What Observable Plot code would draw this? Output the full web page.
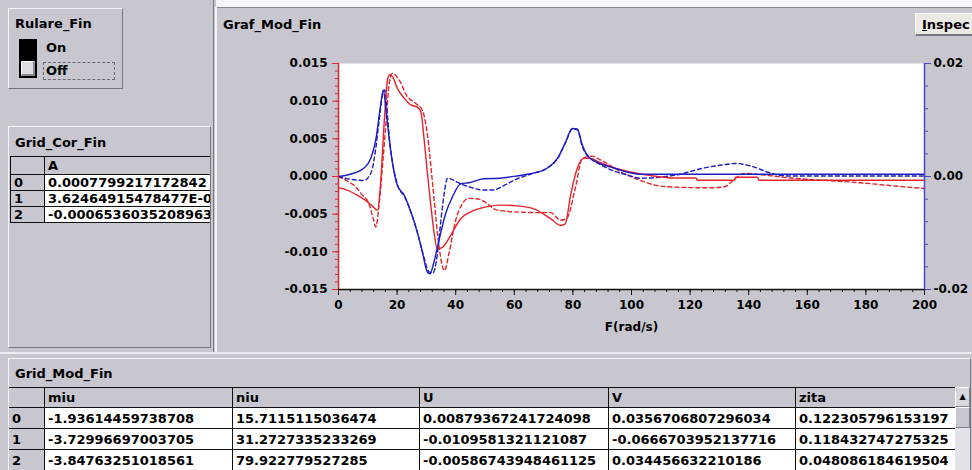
<!DOCTYPE html>
<html><head><meta charset="utf-8">
<script src="https://cdn.jsdelivr.net/npm/d3@7"></script>
<script src="https://cdn.jsdelivr.net/npm/@observablehq/plot@0.6"></script>
<style>
html,body{margin:0;padding:0;}
body{width:972px;height:470px;overflow:hidden;position:relative;background:#c8c7cf;
  font-family:"DejaVu Sans",sans-serif;font-weight:bold;font-size:13px;color:#000;}
.abs{position:absolute;}
.panel{position:absolute;box-sizing:border-box;border-top:1px solid #f4f4f8;border-left:1px solid #f4f4f8;
  border-right:1px solid #77767e;border-bottom:1px solid #77767e;overflow:hidden;}
.title{position:absolute;line-height:16px;white-space:nowrap;}
table.grid{position:absolute;border-collapse:collapse;table-layout:fixed;font-size:13px;font-weight:bold;}
table.grid td{border:1px solid #101010;padding:0 0 0 3px;white-space:nowrap;overflow:hidden;box-sizing:border-box;}
table.grid td.v{background:#fff;}
table.grid td.h{background:#c8c7cf;}
#chart svg{display:block;}
</style>
</head>
<body>
<div class="abs" style="left:216px;top:0;width:760px;height:7px;background:#f6f6f8"></div>
<div class="abs" style="left:0;top:352px;width:972px;height:2px;background:#ececf0"></div>
<div class="abs" style="left:213px;top:0;width:1px;height:352px;background:#7a7982"></div>
<div class="abs" style="left:215px;top:7px;width:2px;height:345px;background:#f2f2f6"></div>
<div class="abs" style="left:217px;top:7px;width:760px;height:1px;background:#8a8990"></div>

<!-- Rulare_Fin -->
<div class="panel" style="left:8px;top:8px;width:115px;height:81px;">
  <div class="title" style="left:6px;top:7px;">Rulare_Fin</div>
  <div class="abs" style="left:10px;top:30px;width:18px;height:39px;background:#000;"></div>
  <div class="abs" style="left:12px;top:52px;width:14px;height:15px;background:#dcdce0;border-top:1px solid #fff;border-left:1px solid #fff;box-sizing:border-box;border-right:2px solid #8a8a90;border-bottom:2px solid #8a8a90;"></div>
  <div class="title" style="left:37px;top:31px;">On</div>
  <div class="abs" style="left:34px;top:53px;width:72px;height:18px;border:1px dashed #6a6a70;box-sizing:border-box;"></div>
  <div class="title" style="left:37px;top:54px;">Off</div>
</div>

<!-- Grid_Cor_Fin -->
<div class="panel" id="gcf" style="left:8px;top:126px;width:203px;height:222px;">
  <div class="title" style="left:6px;top:8px;">Grid_Cor_Fin</div>
</div>

<!-- Chart panel -->
<div class="title" style="left:223px;top:17px;">Graf_Mod_Fin</div>
<div class="abs" style="left:915px;top:13px;width:70px;height:23px;background:#ebe9e3;border-top:1px solid #fff;border-left:1px solid #fff;border-bottom:2px solid #77767e;box-sizing:border-box;">
  <span style="position:absolute;left:6px;top:3px;"><u>I</u>nspec</span>
</div>
<div id="chart" class="abs" style="left:218px;top:40px;"></div>

<!-- Grid_Mod_Fin -->
<div class="panel" id="gmf" style="left:8px;top:358px;width:963px;height:120px;">
  <div class="title" style="left:6px;top:7px;">Grid_Mod_Fin</div>
</div>

<script>
// ---------------- data ----------------
// x axis: F (rad/s)
const xDomain = [0, 200];
const xMajorTicks = [0, 20, 40, 60, 80, 100, 120, 140, 160, 180, 200];
// left (red) axis
const leftDomain = [-0.015, 0.015];
const leftMajorTicks = [-0.015, -0.010, -0.005, 0, 0.005, 0.010, 0.015];
// right (blue) axis
const rightDomain = [-0.02, 0.02];
const rightMajorTicks = [-0.02, 0, 0.02];
const xLabel = "F(rad/s)";

// red solid curve (left axis)
const redSolidF = [0,3,6,9,11.5,13.3,14.4,15.6,16.8,17.6,18.5,20.1,22.4,24.7,26.9,28.1,29.2,30.3,31.5,32.6,33.7,35.5,38.3,41.7,45.1,50.8,55,61,66.7,72.4,75.8,77.4,79.2,81.5,83.7,86,89,92.8,99.7,108.8,115,122,122.5,135,135.5,143,143.5,200];
const redSolidV = [-0.0015,-0.0018,-0.0024,-0.0031,-0.0039,-0.0045,-0.0007,0.0072,0.0130,0.0135,0.0132,0.0117,0.0104,0.0095,0.0092,0.0086,0.0050,0.0006,-0.0038,-0.0074,-0.0096,-0.0094,-0.0078,-0.0056,-0.0047,-0.0040,-0.0038,-0.0039,-0.0043,-0.0056,-0.0065,-0.0063,-0.0025,0.0011,0.0024,0.0024,0.0019,0.0013,0.0006,0.0000,-0.0002,-0.0002,-0.0005,-0.0005,-0.0001,-0.0001,-0.0005,-0.0005];

// red dashed curve (left axis)
const redDashF = [0,3,5.9,8,10.4,12,12.7,13.8,15,16.1,17.3,18.4,20.7,23.5,26.4,28.6,30.3,32.1,33.8,35.5,36.2,37.7,40,42.3,44.5,47.9,50.8,53.6,60.4,69.5,72.4,75.8,78,80.9,83.2,86.6,89.4,97.4,103,108.8,114.4,125.8,131.5,134.8,138.3,145.1,154.2,165.6,177,188.3,200];
const redDashV = [0,-0.0006,-0.0014,-0.0024,-0.0036,-0.0058,-0.0067,-0.0040,0.0013,0.0066,0.0123,0.0137,0.0128,0.0106,0.0097,0.0088,0.0057,-0.0009,-0.0076,-0.0120,-0.0125,-0.0102,-0.0058,-0.0036,-0.0029,-0.0030,-0.0036,-0.0044,-0.0047,-0.0048,-0.0048,-0.0058,-0.0055,-0.0014,0.0024,0.0027,0.0022,0.0004,-0.0005,-0.0012,-0.0014,-0.0015,-0.0014,-0.0005,0.0004,0.0002,-0.0002,-0.0005,-0.0008,-0.0012,-0.0016];

// blue solid curve (right axis)
const blueSolidF = [0,4,8.7,11,12.7,14.4,15.3,16.3,17.3,18.4,20.1,22.4,24.7,26.9,28.6,30.3,31.2,32.6,34.3,36.6,38.9,41.7,44.5,49.6,55,61,65.5,71.3,74.7,77.5,79.8,81.5,83.2,84.9,88.3,92.8,98.5,103,120,140,160,180,200];
const blueSolidV = [0,0.0004,0.0015,0.0032,0.0064,0.0127,0.0153,0.0113,0.0067,0.0025,-0.0016,-0.0033,-0.0063,-0.0099,-0.0133,-0.0169,-0.0172,-0.0151,-0.0113,-0.0065,-0.0036,-0.0013,-0.0011,-0.0004,-0.0003,0.0001,0.0005,0.0015,0.0032,0.0061,0.0085,0.0084,0.0056,0.0037,0.0025,0.0017,0.0008,0.0004,0.0004,0.0004,0.0004,0.0004,0.0004];

// blue dashed curve (right axis)
const blueDashF = [0,4.2,8.7,10.4,11.6,12.7,13.8,15,15.8,16.7,17.5,18.6,20.3,22.6,25,27.2,29,30.8,32.2,33.7,34.9,36,37.2,41.7,45,49.6,53,55.3,61,65.5,71.3,74.7,77.5,79.8,81.5,83.2,86,89.4,92.8,98.5,103,110,115.6,124.7,130.3,135.5,141.7,146.3,153,200];
const blueDashV = [0,-0.0005,-0.0007,0,0.0015,0.0049,0.0096,0.0144,0.0153,0.0108,0.0060,0.0020,-0.0017,-0.0036,-0.0067,-0.0104,-0.0140,-0.0168,-0.0171,-0.0139,-0.0080,-0.0033,-0.0003,-0.0013,-0.0019,-0.0024,-0.0024,-0.0019,-0.0004,0.0004,0.0015,0.0031,0.0060,0.0084,0.0083,0.0053,0.0032,0.0021,0.0012,0.0003,-0.0003,-0.0001,0.0003,0.0015,0.0020,0.0023,0.0017,0.0008,0.0001,0.0001];

// tables
const gridCorHeader = ["A"];
const gridCorIndex = ["0", "1", "2"];
const gridCorA = ["0.0007799217172842", "3.62464915478477E-0", "-0.0006536035208963"];

const gridModHeader = ["miu", "niu", "U", "V", "zita"];
const gridModIndex = ["0", "1", "2"];
const miu = ["-1.93614459738708", "-3.72996697003705", "-3.84763251018561"];
const niu = ["15.7115115036474", "31.2727335233269", "79.922779527285"];
const colU = ["0.00879367241724098", "-0.0109581321121087", "-0.00586743948461125"];
const colV = ["0.0356706807296034", "-0.0666703952137716", "0.034456632210186"];
const zita = ["0.122305796153197", "0.118432747275325", "0.048086184619504"];

// ---------------- chart ----------------
const RED = "#e3242b";
const BLUE = "#1c1cc4";
const AXBLUE = "#4848c8";
const toLeft = d3.scaleLinear().domain(rightDomain).range(leftDomain);

const redSolid = d3.zip(redSolidF, redSolidV);
const redDash = d3.zip(redDashF, redDashV);
const blueSolid = d3.zip(blueSolidF, blueSolidV);
const blueDash = d3.zip(blueDashF, blueDashV);

const xMinor = d3.range(xDomain[0], xDomain[1] + 0.001, 4);
const leftMinor = d3.range(-15, 16, 1).map(k => k / 1000);
const rightMinor = d3.range(-5, 6, 1).map(k => toLeft(k * 0.004));

const chart = Plot.plot({
  width: 754,
  height: 310,
  marginLeft: 120,
  marginRight: 48,
  marginTop: 23,
  marginBottom: 61,
  x: {domain: xDomain},
  y: {domain: leftDomain},
  style: {background: "transparent", fontFamily: "DejaVu Sans", fontSize: "12px", fontWeight: "bold", color: "black", overflow: "visible"},
  marks: [
    Plot.frame({fill: "white", stroke: null}),
    Plot.line(redDash, {x: d => d[0], y: d => d[1], stroke: RED, strokeWidth: 1.4, strokeDasharray: "4,3", curve: "monotone-x"}),
    Plot.line(blueDash, {x: d => d[0], y: d => toLeft(d[1]), stroke: BLUE, strokeWidth: 1.4, strokeDasharray: "4,3", curve: "monotone-x"}),
    Plot.line(redSolid, {x: d => d[0], y: d => d[1], stroke: RED, strokeWidth: 1.4, curve: "monotone-x"}),
    Plot.line(blueSolid, {x: d => d[0], y: d => toLeft(d[1]), stroke: BLUE, strokeWidth: 1.4, curve: "monotone-x"}),
    // axis lines
    Plot.ruleY([leftDomain[0]], {stroke: "#111", strokeWidth: 1.5}),
    Plot.ruleX([xDomain[0]], {stroke: RED, strokeWidth: 1.5}),
    Plot.ruleX([xDomain[1]], {stroke: AXBLUE, strokeWidth: 1.5}),
    // x axis
    Plot.axisX({ticks: xMinor, tickSize: 3, tickFormat: () => "", label: null, stroke: "#111"}),
    Plot.axisX({ticks: xMajorTicks, tickSize: 6, tickPadding: 5, tickFormat: d => String(d), label: null, stroke: "#111", fill: "black"}),
    // left axis
    Plot.axisY({anchor: "left", ticks: leftMinor, tickSize: 3, tickFormat: () => "", label: null, stroke: RED}),
    Plot.axisY({anchor: "left", ticks: leftMajorTicks, tickSize: 6, tickPadding: 5, tickFormat: d => d.toFixed(3), label: null, stroke: RED, fill: "black"}),
    // right axis
    Plot.axisY({anchor: "right", ticks: rightMinor, tickSize: 3, tickFormat: () => "", label: null, stroke: AXBLUE}),
    Plot.axisY({anchor: "right", ticks: rightMajorTicks.map(toLeft), tickSize: 6, tickPadding: 3, tickFormat: d => toLeft.invert(d).toFixed(2), label: null, stroke: AXBLUE, fill: "black"}),
    Plot.text([xLabel], {frameAnchor: "bottom", dy: 41, text: d => d, fill: "black", fontWeight: "bold", fontSize: 12})
  ]
});
document.getElementById("chart").appendChild(chart);

// ---------------- tables ----------------
function buildTable(parent, left, top, colWidths, headers, index, columns, headH, rowH) {
  const t = document.createElement("table");
  t.className = "grid";
  t.style.left = left + "px";
  t.style.top = top + "px";
  t.style.width = d3.sum(colWidths) + "px";
  const cg = document.createElement("colgroup");
  colWidths.forEach(w => { const c = document.createElement("col"); c.style.width = w + "px"; cg.appendChild(c); });
  t.appendChild(cg);
  const hr = t.insertRow();
  hr.style.height = headH + "px";
  const c0 = hr.insertCell(); c0.className = "h";
  headers.forEach(h => { const c = hr.insertCell(); c.className = "h"; c.textContent = h; });
  index.forEach((ix, i) => {
    const r = t.insertRow();
    r.style.height = rowH + "px";
    const a = r.insertCell(); a.className = "h"; a.textContent = ix;
    columns.forEach(col => { const c = r.insertCell(); c.className = "v"; c.textContent = col[i]; });
  });
  parent.appendChild(t);
  return t;
}
buildTable(document.getElementById("gcf"), 1, 29, [34, 175], gridCorHeader, gridCorIndex, [gridCorA], 18, 15);
buildTable(document.getElementById("gmf"), -1, 28, [36, 188, 187, 189, 187, 160], gridModHeader, gridModIndex, [miu, niu, colU, colV, zita], 20, 21);

// scrollbar of Grid_Mod_Fin
const gmf = document.getElementById("gmf");
const sb = document.createElement("div");
sb.className = "abs";
sb.style.cssText = "left:946px;top:28px;width:15px;height:90px;background:#e4e4e8;";
sb.innerHTML = '<div style="position:absolute;left:0;top:0;width:15px;height:20px;background:#d8d8dc;border-top:1px solid #fff;border-left:1px solid #fff;border-right:1px solid #808088;border-bottom:1px solid #808088;box-sizing:border-box;font-size:8px;line-height:18px;text-align:center;">&#9650;</div>' +
  '<div style="position:absolute;left:0;top:20px;width:15px;height:21px;background:#c8c7cf;border-top:1px solid #fff;border-left:1px solid #fff;border-right:1px solid #808088;border-bottom:1px solid #808088;box-sizing:border-box;"></div>';
gmf.appendChild(sb);
</script>
</body></html>
